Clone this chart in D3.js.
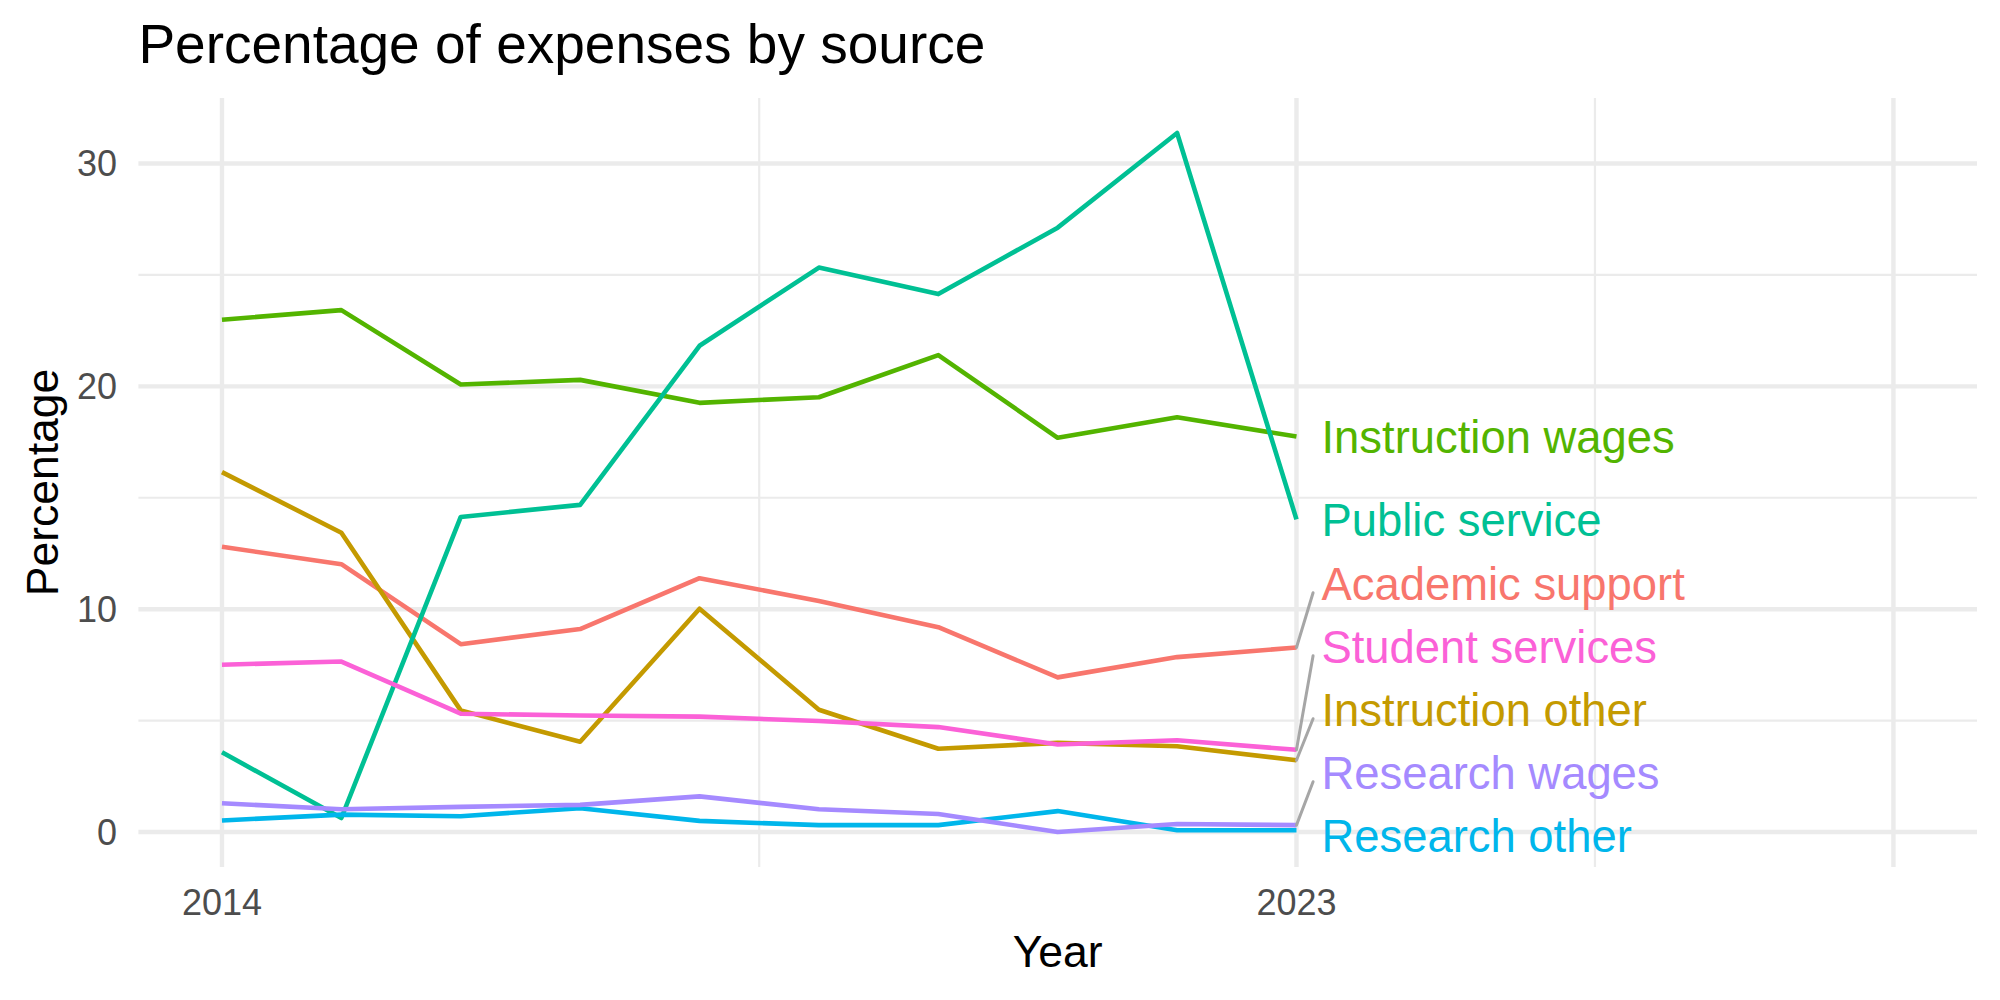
<!DOCTYPE html>
<html>
<head>
<meta charset="utf-8">
<script src="https://cdn.jsdelivr.net/npm/d3@7"></script>
<style>
    body { margin: 0; background: #fff; }
    text { font-family: "Liberation Sans", Arial, sans-serif; }
</style>
</head>
<body>
<div id="line-chart-container"></div>
<script>
// years on the x axis
const YEARS = [2014, 2015, 2016, 2017, 2018, 2019, 2020, 2021, 2022, 2023];

// percentage of expenses per source, one value per year
const ACADEMIC_SUPPORT = [12.80, 12.02, 8.43, 9.11, 11.39, 10.37, 9.19, 6.94, 7.85, 8.28];
const INSTRUCTION_OTHER = [16.15, 13.43, 5.46, 4.05, 10.02, 5.49, 3.74, 4.00, 3.85, 3.22];
const INSTRUCTION_WAGES = [22.99, 23.42, 20.08, 20.29, 19.26, 19.51, 21.40, 17.69, 18.61, 17.75];
const PUBLIC_SERVICE = [3.58, 0.63, 14.14, 14.68, 21.82, 25.33, 24.14, 27.12, 31.37, 14.03];
const RESEARCH_OTHER = [0.52, 0.78, 0.71, 1.07, 0.50, 0.31, 0.31, 0.94, 0.08, 0.08];
const RESEARCH_WAGES = [1.29, 1.02, 1.13, 1.22, 1.60, 1.02, 0.81, 0.00, 0.36, 0.31];
const STUDENT_SERVICES = [7.51, 7.65, 5.31, 5.23, 5.18, 4.98, 4.71, 3.93, 4.12, 3.69];

// series names, in drawing order
const SOURCES = ["Academic support", "Instruction other", "Instruction wages", "Public service",
    "Research other", "Research wages", "Student services"];
const SERIES_VALUES = [ACADEMIC_SUPPORT, INSTRUCTION_OTHER, INSTRUCTION_WAGES, PUBLIC_SERVICE,
    RESEARCH_OTHER, RESEARCH_WAGES, STUDENT_SERVICES];

// axis limits and breaks
const X_LIMITS = [2014, 2028];
const X_BREAKS = [2014, 2023, 2028];
const X_LABELS = ["2014", "2023", ""];
const Y_BREAKS = [0, 10, 20, 30];
const Y_MINOR_BREAKS = [5, 15, 25];

function drawLineChart() {
    // chart dimensions
    const width = 2000;
    const height = 1000;
    const margin = { left: 138.4, right: 23, top: 98, bottom: 133 };
    const innerWidth = width - margin.left - margin.right;
    const innerHeight = height - margin.top - margin.bottom;

    const svg = d3.select("#line-chart-container")
        .append("svg")
        .attr("width", width)
        .attr("height", height);

    svg.append("rect").attr("width", width).attr("height", height).attr("fill", "#fff");

    const chart = svg.append("g")
        .attr("transform", `translate(${margin.left},${margin.top})`);

    // build long data
    const series = SOURCES.map((name, i) => ({
        name: name,
        values: YEARS.map((year, j) => ({ year: year, value: SERIES_VALUES[i][j] }))
    }));

    // x scale with 5% expansion like ggplot
    const xPad = (X_LIMITS[1] - X_LIMITS[0]) * 0.05;
    const x = d3.scaleLinear()
        .domain([X_LIMITS[0] - xPad, X_LIMITS[1] + xPad])
        .range([0, innerWidth]);

    // y scale with 5% expansion
    const allValues = SERIES_VALUES.flat();
    const yMin = d3.min(allValues);
    const yMax = d3.max(allValues);
    const yPad = (yMax - yMin) * 0.05;
    const y = d3.scaleLinear()
        .domain([yMin - yPad, yMax + yPad])
        .range([innerHeight, 0]);

    // minor x breaks between majors
    const xMinor = d3.pairs(X_BREAKS).map(p => (p[0] + p[1]) / 2);

    const grid = chart.append("g").attr("stroke", "#ebebeb").attr("fill", "none");

    // minor grid
    grid.selectAll(".y-minor").data(Y_MINOR_BREAKS).enter().append("line")
        .attr("x1", 0).attr("x2", innerWidth)
        .attr("y1", d => y(d)).attr("y2", d => y(d))
        .attr("stroke-width", 2.2);
    grid.selectAll(".x-minor").data(xMinor).enter().append("line")
        .attr("y1", 0).attr("y2", innerHeight)
        .attr("x1", d => x(d)).attr("x2", d => x(d))
        .attr("stroke-width", 2.2);

    // major grid
    grid.selectAll(".y-major").data(Y_BREAKS).enter().append("line")
        .attr("x1", 0).attr("x2", innerWidth)
        .attr("y1", d => y(d)).attr("y2", d => y(d))
        .attr("stroke-width", 4.4);
    grid.selectAll(".x-major").data(X_BREAKS).enter().append("line")
        .attr("y1", 0).attr("y2", innerHeight)
        .attr("x1", d => x(d)).attr("x2", d => x(d))
        .attr("stroke-width", 4.4);

    // y tick labels
    chart.append("g").selectAll("text").data(Y_BREAKS).enter().append("text")
        .attr("x", -21.4)
        .attr("y", d => y(d) + 13)
        .attr("text-anchor", "end")
        .attr("font-size", "36px")
        .attr("fill", "#4d4d4d")
        .text(d => d);

    // x tick labels
    chart.append("g").selectAll("text").data(X_BREAKS).enter().append("text")
        .attr("x", d => x(d))
        .attr("y", innerHeight + 48)
        .attr("text-anchor", "middle")
        .attr("font-size", "36px")
        .attr("fill", "#4d4d4d")
        .text((d, i) => X_LABELS[i]);

    // colour palette, ggplot hue
    const color = d3.scaleOrdinal()
        .domain(SOURCES)
        .range(["#F8766D", "#C49A00", "#53B400", "#00C094", "#00B6EB", "#A58AFF", "#FB61D7"]);

    // lines
    const line = d3.line()
        .x(d => x(d.year))
        .y(d => y(d.value));

    chart.append("g").selectAll("path").data(series).enter().append("path")
        .attr("d", d => line(d.values))
        .attr("fill", "none")
        .attr("stroke", d => color(d.name))
        .attr("stroke-width", 4.6)
        .attr("stroke-linejoin", "round");

    // end labels, simple repel: keep labels a fixed gap apart inside the panel
    const fontSize = 45.4;
    const gap = 63;
    const labelX = x(YEARS[YEARS.length - 1]) + 25;
    const labels = series.map(s => {
        const last = s.values[s.values.length - 1];
        return { name: s.name, px: x(last.year), py: y(last.value), cy: y(last.value) };
    }).sort((a, b) => a.py - b.py);

    for (let i = 1; i < labels.length; i++) {
        labels[i].cy = Math.max(labels[i].cy, labels[i - 1].cy + gap);
    }
    labels[labels.length - 1].cy = Math.min(labels[labels.length - 1].cy, innerHeight - gap / 2);
    for (let i = labels.length - 2; i >= 0; i--) {
        labels[i].cy = Math.min(labels[i].cy, labels[i + 1].cy - gap);
    }

    const capHalf = fontSize * 0.716 / 2;

    // segments for moved labels
    chart.append("g").selectAll("line")
        .data(labels.filter(d => Math.abs(d.cy - d.py) > 10))
        .enter().append("line")
        .attr("x1", d => d.px)
        .attr("y1", d => d.py)
        .attr("x2", labelX - 8.4)
        .attr("y2", d => d.cy + capHalf - 7)
        .attr("stroke", "#a6a6a6")
        .attr("stroke-width", 3)
        .attr("stroke-linecap", "round");

    chart.append("g").selectAll("text").data(labels).enter().append("text")
        .attr("x", labelX)
        .attr("y", d => d.cy + capHalf)
        .attr("font-size", fontSize + "px")
        .attr("fill", d => color(d.name))
        .text(d => d.name);

    // title
    svg.append("text")
        .attr("x", margin.left)
        .attr("y", 63)
        .attr("font-size", "55px")
        .attr("fill", "#000")
        .text("Percentage of expenses by source");

    // x axis title
    svg.append("text")
        .attr("x", margin.left + innerWidth / 2)
        .attr("y", 967)
        .attr("text-anchor", "middle")
        .attr("font-size", "44.5px")
        .attr("fill", "#000")
        .text("Year");

    // y axis title
    svg.append("text")
        .attr("transform", `translate(58,${margin.top + innerHeight / 2}) rotate(-90)`)
        .attr("text-anchor", "middle")
        .attr("font-size", "44.5px")
        .attr("fill", "#000")
        .text("Percentage");
}

window.onload = () => {
    drawLineChart();
};
</script>
</body>
</html>
